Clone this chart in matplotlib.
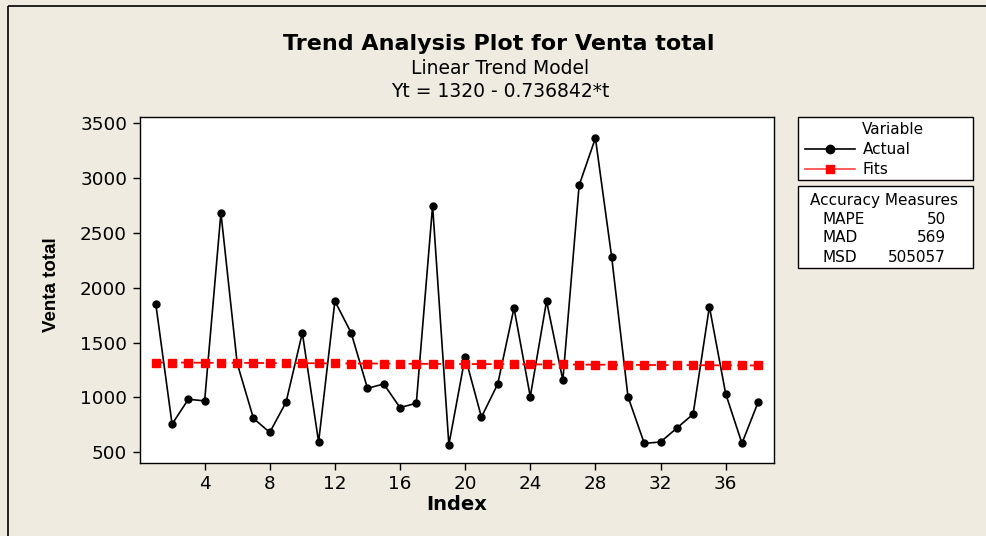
import matplotlib
matplotlib.use("Agg")
import matplotlib.pyplot as plt
from matplotlib.patches import Rectangle

# ---- data ----
index = list(range(1, 39))
actual = [1852, 757, 984, 969, 2684, 1311, 809, 682, 957, 1589,
          594, 1879, 1589, 1084, 1123, 908, 948, 2748, 570, 1371,
          821, 1123, 1816, 1008, 1879, 1159, 2935, 3365, 2279, 1008,
          582, 594, 721, 848, 1828, 1035, 582, 960]
fits = [1319, 1319, 1318, 1317, 1316, 1316, 1315, 1314, 1313, 1313,
        1312, 1311, 1310, 1310, 1309, 1308, 1307, 1307, 1306, 1305,
        1305, 1304, 1303, 1302, 1302, 1301, 1300, 1299, 1299, 1298,
        1297, 1296, 1296, 1295, 1294, 1293, 1293, 1292]
xticks = [4, 8, 12, 16, 20, 24, 28, 32, 36]
yticks = [500, 1000, 1500, 2000, 2500, 3000, 3500]
measure_names = ["MAPE", "MAD", "MSD"]
measure_values = ["50", "569", "505057"]
title = "Trend Analysis Plot for Venta total"
subtitle1 = "Linear Trend Model"
subtitle2 = "Yt = 1320 - 0.736842*t"

BG = "#EFEBE0"
W, H = 986, 536

fig = plt.figure(figsize=(W / 100, H / 100), dpi=100, facecolor=BG)

# overlay in pixel coordinates for frame / legend boxes
ov = fig.add_axes([0, 0, 1, 1], zorder=0)
ov.set_xlim(0, W)
ov.set_ylim(H, 0)
ov.axis("off")
ov.add_patch(Rectangle((8, 6), W, H, fill=False, ec="black", lw=1.2))

# main axes
ax = fig.add_axes([140 / W, 1 - 463.3 / H, (773.7 - 140) / W, (463.3 - 117.3) / H], zorder=2)
ax.set_facecolor("white")
ax.plot(index, actual, color="black", lw=1.2, marker="o", ms=5, mfc="black", mec="black")
ax.plot(index, fits, color="#FF0000", lw=1.3, ls=(0, (4, 3)), marker="s", ms=5.6,
        mfc="#FF0000", mec="#FF0000")
ax.set_xlim(0.03, 38.95)
ax.set_ylim(400, 3555)
ax.set_xticks(xticks)
ax.set_yticks(yticks)
ax.tick_params(axis="both", direction="out", length=5, width=1, labelsize=13.2, colors="black")
ax.tick_params(axis="y", pad=4.3)
ax.tick_params(axis="x", pad=3.5)
for s in ax.spines.values():
    s.set_linewidth(1.0)
    s.set_color("black")

# axis labels
fig.text(52 / W, 1 - 285 / H, "Venta total", rotation=90, ha="center", va="center",
         fontsize=13.5, fontweight="bold", family=["Liberation Sans", "DejaVu Sans"])
fig.text(457 / W, 1 - 505 / H, "Index", ha="center", va="center", fontsize=14, fontweight="bold")

# titles
fig.text(499 / W, 1 - 44 / H, title, ha="center", va="center", fontsize=16, fontweight="bold")
fig.text(500 / W, 1 - 68 / H, subtitle1, ha="center", va="center", fontsize=13.5)
fig.text(500 / W, 1 - 92 / H, subtitle2, ha="center", va="center", fontsize=13.5)

# legend box: Variable
ov.add_patch(Rectangle((798, 117.3), 175, 62.7, fc="white", ec="black", lw=1.0))
ov.text(893, 130, "Variable", ha="center", va="center", fontsize=11)
ov.plot([805, 855], [149, 149], color="black", lw=1.2)
ov.plot([830], [149], marker="o", color="black", ms=6)
ov.text(863, 149, "Actual", ha="left", va="center", fontsize=11)
ov.plot([805, 855], [169, 169], color="#FF4040", lw=1.2)
ov.plot([830], [169], marker="s", color="#FF0000", ms=6)
ov.text(863, 169, "Fits", ha="left", va="center", fontsize=11)

# accuracy box
ov.add_patch(Rectangle((798, 185.7), 175, 82.6, fc="white", ec="black", lw=1.0))
ov.text(884, 200, "Accuracy Measures", ha="center", va="center", fontsize=11)
for i, (n, v) in enumerate(zip(measure_names, measure_values)):
    y = 219 + i * 19
    ov.text(822, y, n, ha="left", va="center", fontsize=11)
    ov.text(946, y, v, ha="right", va="center", fontsize=11)

fig.savefig("out.png", dpi=100, facecolor=BG)
